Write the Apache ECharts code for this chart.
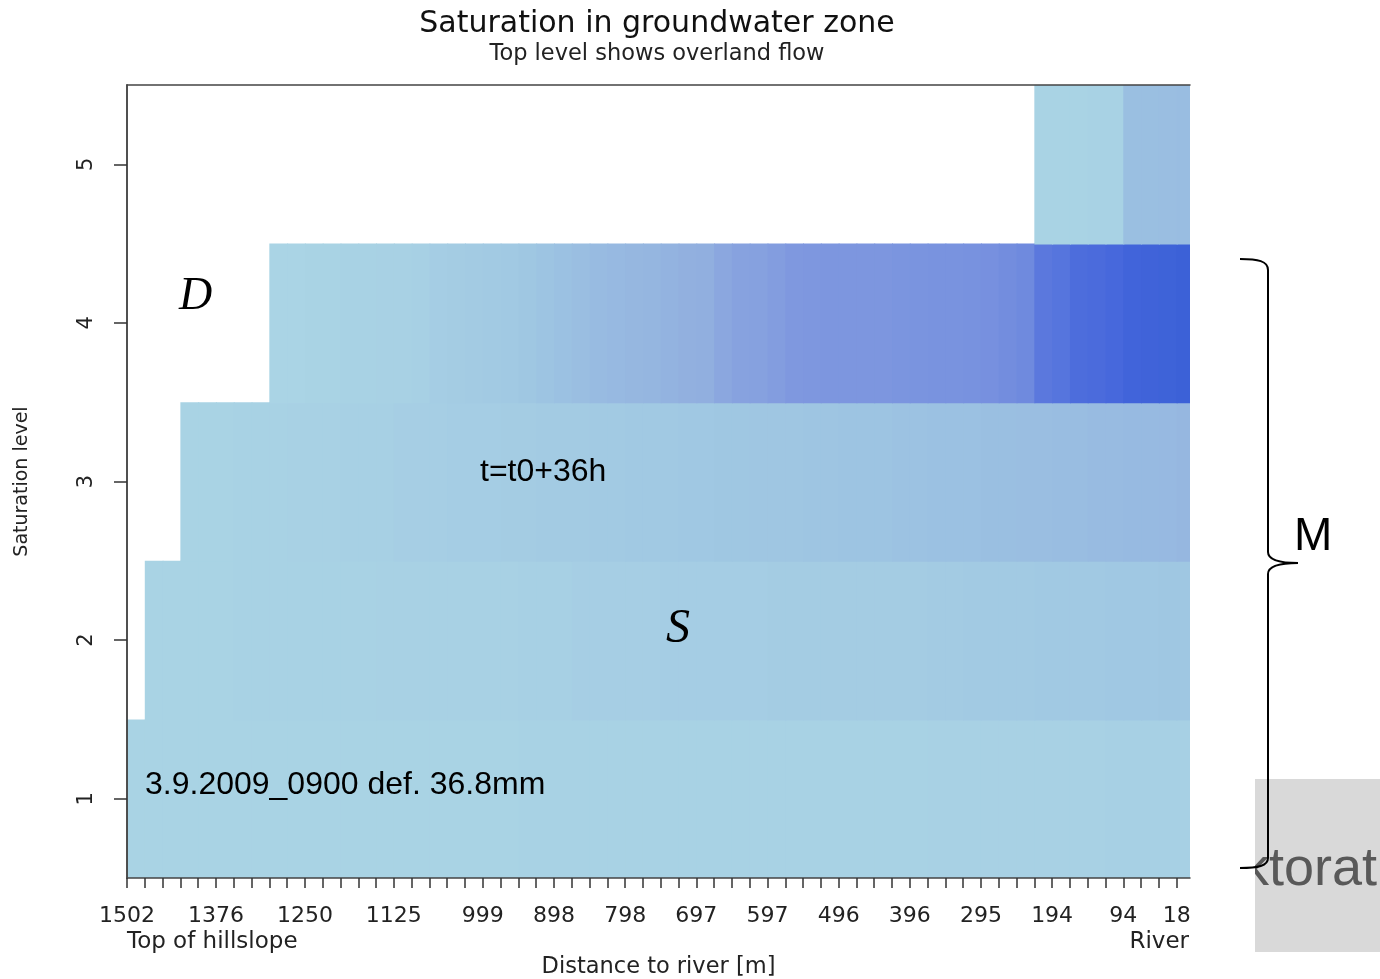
<!DOCTYPE html>
<html>
<head>
<meta charset="utf-8">
<script src="https://cdn.jsdelivr.net/npm/echarts@6/dist/echarts.min.js"></script>
<style>
  html, body { margin: 0; padding: 0; background: #fff; }
  #chart { width: 1380px; height: 979px; }
</style>
</head>
<body>
<div id="chart"></div>
<script>
// Distance labels printed under selected columns (column index -> label)
const distanceLabels = ['1502', '1376', '1250', '1125', '999', '898', '798', '697', '597', '496', '396', '295', '194', '94', '18'];
const labelColumns = [0, 5, 10, 15, 20, 24, 28, 32, 36, 40, 44, 48, 52, 56, 59];
const columnCount = 60;

// Saturation levels (rows) and the first column each one reaches
const levels = [1, 2, 3, 4, 5];
const levelStart = [0, 1, 3, 8, 51];

// Relative saturation per cell, from the first filled column to the river
const level1 = [
  0.03, 0.03, 0.03, 0.03, 0.03, 0.03, 0.03, 0.03, 0.03, 0.03,
  0.03, 0.03, 0.03, 0.03, 0.03, 0.03, 0.03, 0.03, 0.03, 0.03,
  0.03, 0.03, 0.04, 0.04, 0.04, 0.04, 0.04, 0.04, 0.04, 0.04,
  0.04, 0.04, 0.04, 0.04, 0.04, 0.04, 0.04, 0.04, 0.04, 0.04,
  0.04, 0.04, 0.04, 0.04, 0.04, 0.05, 0.05, 0.05, 0.05, 0.05,
  0.05, 0.05, 0.05, 0.05, 0.05, 0.06, 0.06, 0.06, 0.06, 0.06
];
const level2 = [
  0.03, 0.03, 0.03, 0.03, 0.03, 0.04, 0.04, 0.04, 0.04, 0.04,
  0.04, 0.04, 0.04, 0.05, 0.05, 0.05, 0.05, 0.05, 0.05, 0.05,
  0.05, 0.06, 0.06, 0.06, 0.07, 0.07, 0.07, 0.07, 0.07, 0.08,
  0.08, 0.08, 0.08, 0.08, 0.08, 0.09, 0.09, 0.09, 0.09, 0.09,
  0.09, 0.09, 0.09, 0.09, 0.10, 0.10, 0.11, 0.11, 0.11, 0.11,
  0.12, 0.12, 0.12, 0.12, 0.13, 0.13, 0.13, 0.14, 0.14
];
const level3 = [
  0.03, 0.03, 0.03, 0.04, 0.04, 0.04, 0.05, 0.05, 0.05, 0.06,
  0.06, 0.06, 0.07, 0.07, 0.07, 0.08, 0.08, 0.08, 0.09, 0.09,
  0.10, 0.10, 0.10, 0.11, 0.11, 0.12, 0.12, 0.12, 0.13, 0.13,
  0.14, 0.14, 0.15, 0.15, 0.15, 0.16, 0.16, 0.17, 0.17, 0.17,
  0.18, 0.18, 0.19, 0.19, 0.19, 0.20, 0.20, 0.21, 0.21, 0.22,
  0.22, 0.23, 0.23, 0.24, 0.24, 0.25, 0.26
];
const level4 = [
  0.02, 0.02, 0.03, 0.03, 0.04, 0.04, 0.05, 0.05, 0.06, 0.08,
  0.09, 0.10, 0.11, 0.12, 0.14, 0.17, 0.19, 0.21, 0.23, 0.25,
  0.26, 0.27, 0.29, 0.31, 0.32, 0.38, 0.42, 0.43, 0.46, 0.50,
  0.51, 0.52, 0.52, 0.52, 0.52, 0.53, 0.54, 0.55, 0.55, 0.56,
  0.57, 0.60, 0.63, 0.74, 0.76, 0.80, 0.81, 0.83, 0.90, 0.92,
  0.94, 0.97
];
const level5 = [0.03, 0.03, 0.03, 0.04, 0.04, 0.20, 0.20, 0.21, 0.22];

const levelValues = [level1, level2, level3, level4, level5];

// Flatten into [column, level, value] cells
const cells = [];
levels.forEach(function (lv, i) {
  levelValues[i].forEach(function (v, k) {
    cells.push([levelStart[i] + k, lv, v]);
  });
});

const labelByColumn = {};
labelColumns.forEach(function (c, i) { labelByColumn[c] = distanceLabels[i]; });
const tickColumns = [];
for (let c = 0; c < columnCount; c++) tickColumns.push(c);

const rFont = 'DejaVu Sans';
const textColor = '#222';
const xMax = 59.75;

const chart = echarts.init(document.getElementById('chart'), null, { renderer: 'canvas' });

// Curly brace grouping the lower four levels, built from curves and straight runs
const braceStyle = { stroke: '#000', lineWidth: 2, fill: null };
const brace = [
  { type: 'bezierCurve', shape: { x1: 1240, y1: 259, cpx1: 1258, cpy1: 259, cpx2: 1268, cpy2: 261, x2: 1268, y2: 270 } },
  { type: 'line', shape: { x1: 1268, y1: 270, x2: 1268, y2: 552 } },
  { type: 'bezierCurve', shape: { x1: 1268, y1: 552, cpx1: 1268, cpy1: 560, cpx2: 1280, cpy2: 563, x2: 1298, y2: 563 } },
  { type: 'bezierCurve', shape: { x1: 1298, y1: 563, cpx1: 1280, cpy1: 563, cpx2: 1268, cpy2: 566, x2: 1268, y2: 574 } },
  { type: 'line', shape: { x1: 1268, y1: 574, x2: 1268, y2: 858 } },
  { type: 'bezierCurve', shape: { x1: 1268, y1: 858, cpx1: 1268, cpy1: 866, cpx2: 1258, cpy2: 868, x2: 1240, y2: 868 } }
].map(function (e) { e.z = 23; e.style = braceStyle; return e; });

chart.setOption({
  backgroundColor: '#ffffff',
  animation: false,
  title: {
    text: 'Saturation in groundwater zone',
    subtext: 'Top level shows overland flow',
    left: 652,
    top: 3,
    textAlign: 'center',
    itemGap: 2,
    textStyle: { fontFamily: rFont, fontSize: 30, fontWeight: 'normal', color: '#111', lineHeight: 33 },
    subtextStyle: { fontFamily: rFont, fontSize: 22.5, color: '#222', lineHeight: 23 }
  },
  grid: { left: 127, right: 190, top: 85, bottom: 101, outerBoundsMode: 'none', containLabel: false },
  visualMap: {
    show: false,
    type: 'continuous',
    dimension: 2,
    min: 0,
    max: 1,
    inRange: { color: ['#acd6e5', '#9dc4e2', '#90addf', '#7f98df', '#6b86de', '#4667dc', '#3a60d6'] }
  },
  xAxis: [{
    type: 'value',
    min: 0,
    max: xMax,
    z: 10,
    position: 'bottom',
    splitLine: { show: false },
    axisLine: { show: true, lineStyle: { color: '#444', width: 1.5 } },
    axisTick: { show: true, length: 10, customValues: tickColumns, lineStyle: { color: '#333', width: 1.5 } },
    axisLabel: {
      customValues: labelColumns,
      margin: 27,
      fontFamily: rFont,
      fontSize: 22,
      color: textColor,
      formatter: function (v) { return labelByColumn[Math.round(v)] || ''; }
    },
    name: 'Distance to river [m]',
    nameLocation: 'middle',
    nameGap: 78,
    nameTextStyle: { fontFamily: rFont, fontSize: 22.5, color: textColor }
  }, {
    type: 'value',
    min: 0,
    max: xMax,
    z: 10,
    position: 'top',
    splitLine: { show: false },
    axisLine: { show: true, lineStyle: { color: '#444', width: 1.5 } },
    axisTick: { show: false },
    axisLabel: { show: false }
  }],
  yAxis: [{
    type: 'value',
    min: 0.5,
    max: 5.5,
    z: 10,
    position: 'left',
    splitLine: { show: false },
    axisLine: { show: true, lineStyle: { color: '#444', width: 1.5 } },
    axisTick: { show: true, length: 13, customValues: levels, lineStyle: { color: '#333', width: 1.5 } },
    axisLabel: {
      customValues: levels,
      rotate: 90,
      margin: 30,
      fontFamily: rFont,
      fontSize: 21,
      color: textColor
    },
    name: 'Saturation level',
    nameLocation: 'middle',
    nameGap: 95,
    nameTextStyle: { fontFamily: rFont, fontSize: 19, color: textColor }
  }, {
    type: 'value',
    min: 0.5,
    max: 5.5,
    z: 10,
    position: 'right',
    splitLine: { show: false },
    axisLine: { show: true, lineStyle: { color: '#444', width: 1.5 } },
    axisTick: { show: false },
    axisLabel: { show: false }
  }],
  series: [{
    type: 'custom',
    clip: true,
    xAxisIndex: 0,
    yAxisIndex: 0,
    encode: { x: 0, y: 1 },
    data: cells,
    renderItem: function (params, api) {
      const c = api.value(0);
      const lv = api.value(1);
      const p0 = api.coord([c, lv + 0.5]);
      const p1 = api.coord([c + 1, lv - 0.5]);
      // grow each cell by a pixel so neighbours overlap without seams
      return {
        type: 'rect',
        shape: { x: p0[0], y: p0[1], width: p1[0] - p0[0] + 1, height: p1[1] - p0[1] + 1 },
        style: { fill: api.visual('color') }
      };
    }
  }],
  graphic: [
    // End labels of the distance axis
    { type: 'text', left: 127, top: 931, style: { text: 'Top of hillslope', font: '23px "DejaVu Sans"', fill: textColor } },
    { type: 'text', right: 191, top: 931, style: { text: 'River', font: '23px "DejaVu Sans"', fill: textColor } },
    // Annotations inside the plot
    { type: 'text', left: 145, top: 769, z: 20, style: { text: '3.9.2009_0900 def. 36.8mm', font: '32px "Liberation Sans"', fill: '#000' } },
    { type: 'text', left: 480, top: 456, z: 20, style: { text: 't=t0+36h', font: '32px "Liberation Sans"', fill: '#000' } },
    { type: 'text', left: 179, top: 274, z: 20, style: { text: 'D', font: 'italic 46px "Liberation Serif"', fill: '#000' } },
    { type: 'text', left: 666, top: 605, z: 20, style: { text: 'S', font: 'italic 48px "Liberation Serif"', fill: '#000' } },
    // Grey caption box partly outside the canvas
    { type: 'rect', z: 20, shape: { x: 1255, y: 779, width: 130, height: 173 }, style: { fill: '#d9d9d9' } },
    { type: 'text', z: 21, x: 1242, y: 843, style: { text: 'ktorat', font: '54px "Liberation Sans"', fill: '#595959' } },
    { type: 'rect', z: 22, shape: { x: 1200, y: 830, width: 55, height: 70 }, style: { fill: '#ffffff' } }
  ].concat(brace).concat([
    { type: 'text', left: 1294, top: 514, z: 23, style: { text: 'M', font: '46px "Liberation Sans"', fill: '#000' } }
  ])
});
</script>
</body>
</html>
